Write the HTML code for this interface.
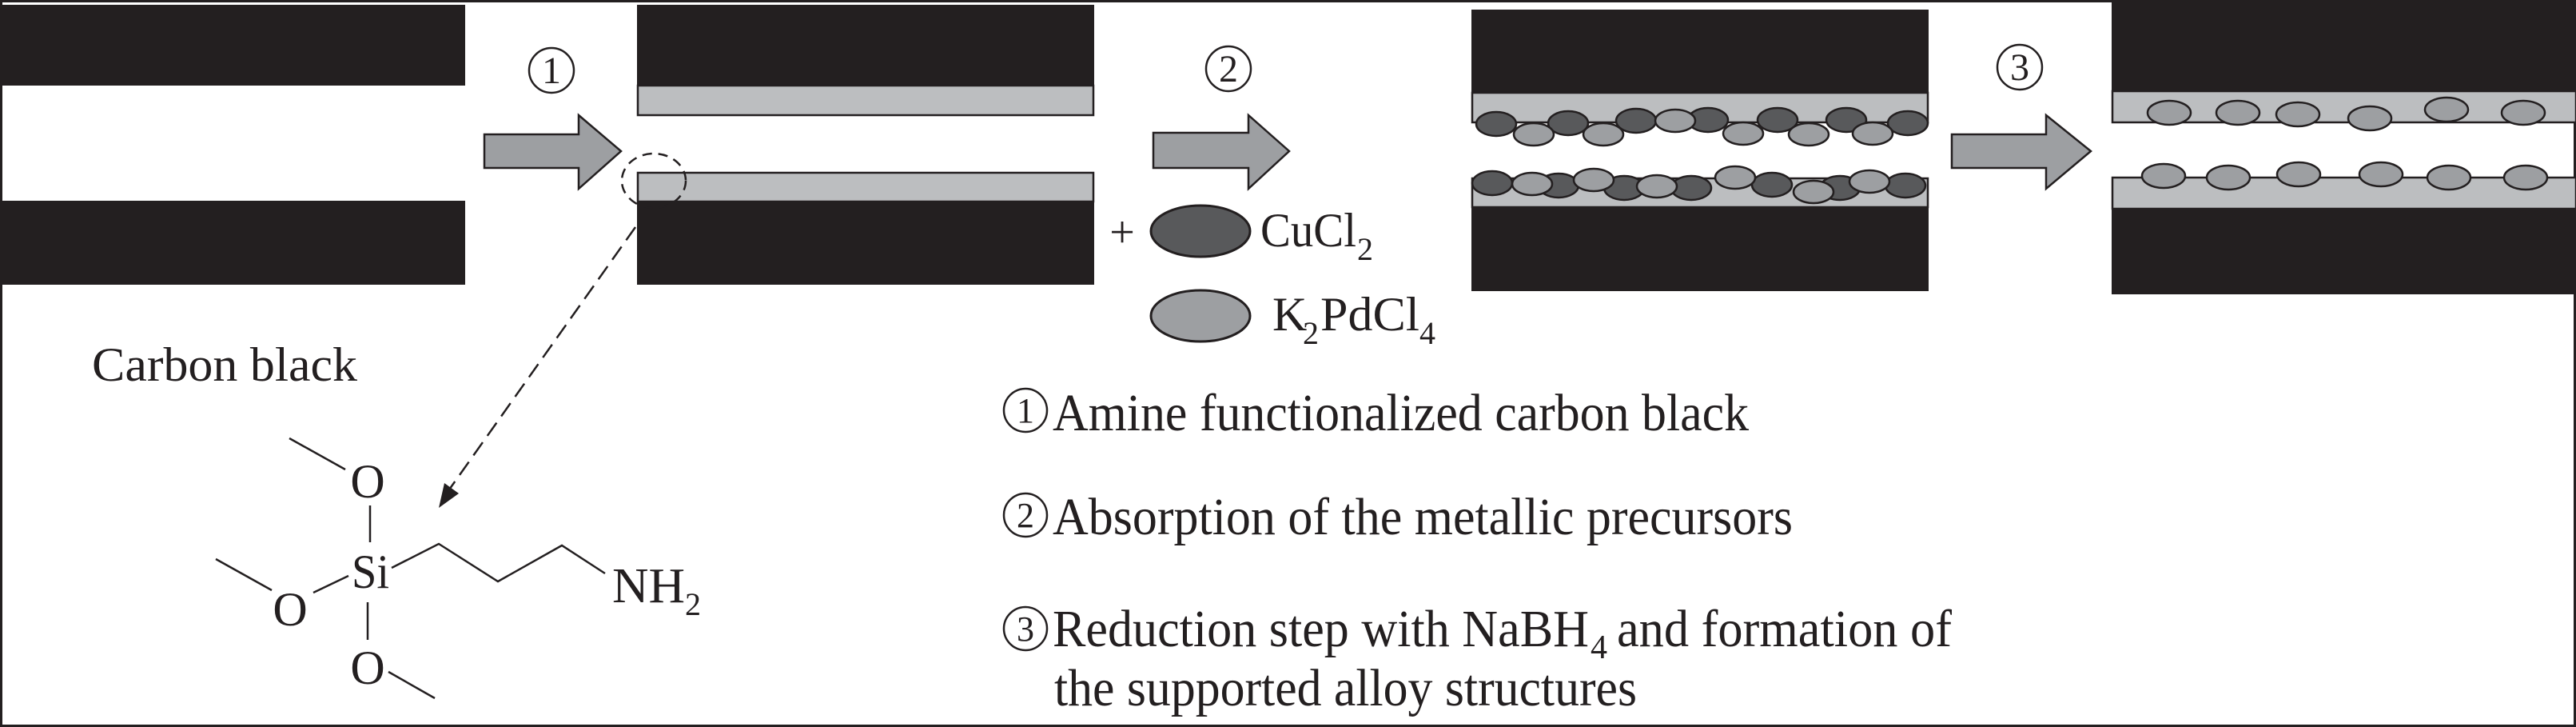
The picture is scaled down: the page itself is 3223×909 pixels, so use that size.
<!DOCTYPE html>
<html><head><meta charset="utf-8"><style>
html,body{margin:0;padding:0;background:#fff}
svg{display:block}
text{font-family:"Liberation Serif",serif;fill:#231f20}
</style></head><body>
<svg width="3223" height="909" viewBox="0 0 3223 909" xmlns="http://www.w3.org/2000/svg">
<rect x="1.5" y="1.5" width="3220" height="906" fill="#fff" stroke="#231f20" stroke-width="3"/>
<!-- panel 1 -->
<rect x="0" y="6" width="582" height="101" fill="#231f20"/>
<rect x="0" y="251" width="582" height="105" fill="#231f20"/>
<!-- arrow 1 -->
<polygon points="606,168 724,168 724,144 777,189 724,236 724,210 606,210" fill="#9d9fa2" stroke="#231f20" stroke-width="2.5"/>
<circle cx="690" cy="88" r="28" fill="none" stroke="#231f20" stroke-width="2.5"/>
<text x="690" y="104" font-size="48" text-anchor="middle">1</text>
<!-- panel 2 -->
<rect x="797" y="6" width="572" height="101" fill="#231f20"/>
<rect x="798" y="107" width="570" height="37" fill="#bcbec0" stroke="#231f20" stroke-width="2.5"/>
<rect x="798" y="216" width="570" height="36" fill="#bcbec0" stroke="#231f20" stroke-width="2.5"/>
<rect x="797" y="251" width="572" height="105" fill="#231f20"/>
<ellipse cx="818" cy="226" rx="40" ry="34" fill="none" stroke="#231f20" stroke-width="2.5" stroke-dasharray="12,8"/>
<line x1="795" y1="284" x2="560" y2="615" stroke="#231f20" stroke-width="2.5" stroke-dasharray="20,10"/>
<polygon points="549,635 556,604 574,617" fill="#231f20"/>
<!-- arrow 2 -->
<polygon points="1443,166 1562,166 1562,144 1613,189 1562,236 1562,210 1443,210" fill="#9d9fa2" stroke="#231f20" stroke-width="2.5"/>
<circle cx="1537" cy="86" r="28" fill="none" stroke="#231f20" stroke-width="2.5"/>
<text x="1537" y="102" font-size="48" text-anchor="middle">2</text>
<text x="1404" y="309" font-size="56" text-anchor="middle">+</text>
<ellipse cx="1502" cy="289" rx="62" ry="32" fill="#58595b" stroke="#231f20" stroke-width="3"/>
<text x="1577" y="308" font-size="60" textLength="120" lengthAdjust="spacingAndGlyphs">CuCl</text>
<text x="1698" y="325" font-size="40">2</text>
<ellipse cx="1502" cy="395" rx="62" ry="32" fill="#9d9fa2" stroke="#231f20" stroke-width="3"/>
<text x="1592" y="413" font-size="60">K</text>
<text x="1630" y="430" font-size="40">2</text>
<text x="1652" y="413" font-size="60" textLength="124" lengthAdjust="spacingAndGlyphs">PdCl</text>
<text x="1776" y="430" font-size="40">4</text>
<!-- panel 3 -->
<rect x="1841" y="12" width="572" height="104" fill="#231f20"/>
<rect x="1842" y="116" width="570" height="37" fill="#bcbec0" stroke="#231f20" stroke-width="2.5"/>
<rect x="1842" y="223" width="570" height="36" fill="#bcbec0" stroke="#231f20" stroke-width="2.5"/>
<rect x="1841" y="259" width="572" height="105" fill="#231f20"/>
<g stroke="#231f20" stroke-width="2.5">
<g fill="#58595b">
<ellipse cx="1872" cy="155" rx="25" ry="15"/><ellipse cx="1962" cy="154" rx="25" ry="15"/><ellipse cx="2047" cy="151" rx="25" ry="15"/><ellipse cx="2137" cy="150" rx="25" ry="15"/><ellipse cx="2224" cy="150" rx="25" ry="15"/><ellipse cx="2310" cy="150" rx="25" ry="15"/><ellipse cx="2387" cy="154" rx="25" ry="15"/>
</g>
<g fill="#9d9fa2">
<ellipse cx="1919" cy="168" rx="25" ry="14"/><ellipse cx="2006" cy="168" rx="25" ry="14"/><ellipse cx="2096" cy="151" rx="25" ry="14"/><ellipse cx="2181" cy="167" rx="25" ry="14"/><ellipse cx="2263" cy="168" rx="25" ry="14"/><ellipse cx="2343" cy="167" rx="25" ry="14"/>
</g>
<g fill="#58595b">
<ellipse cx="1867" cy="229" rx="25" ry="15"/><ellipse cx="1950" cy="232" rx="25" ry="15"/><ellipse cx="2032" cy="235" rx="25" ry="15"/><ellipse cx="2116" cy="235" rx="25" ry="15"/><ellipse cx="2217" cy="231" rx="25" ry="15"/><ellipse cx="2302" cy="235" rx="25" ry="15"/><ellipse cx="2384" cy="232" rx="25" ry="15"/>
</g>
<g fill="#9d9fa2">
<ellipse cx="1917" cy="230" rx="25" ry="14"/><ellipse cx="1994" cy="225" rx="25" ry="14"/><ellipse cx="2073" cy="233" rx="25" ry="14"/><ellipse cx="2171" cy="222" rx="25" ry="14"/><ellipse cx="2269" cy="240" rx="25" ry="14"/><ellipse cx="2339" cy="227" rx="25" ry="14"/>
</g>
</g>
<!-- arrow 3 -->
<polygon points="2442,168 2560,168 2560,144 2616,189 2560,236 2560,210 2442,210" fill="#9d9fa2" stroke="#231f20" stroke-width="2.5"/>
<circle cx="2527" cy="84" r="28" fill="none" stroke="#231f20" stroke-width="2.5"/>
<text x="2527" y="100" font-size="48" text-anchor="middle">3</text>
<!-- panel 4 -->
<rect x="2642" y="0" width="581" height="114" fill="#231f20"/>
<rect x="2643" y="114" width="580" height="39" fill="#bcbec0" stroke="#231f20" stroke-width="2.5"/>
<rect x="2643" y="222" width="580" height="39" fill="#bcbec0" stroke="#231f20" stroke-width="2.5"/>
<rect x="2642" y="261" width="581" height="107" fill="#231f20"/>
<g fill="#9d9fa2" stroke="#231f20" stroke-width="2.5">
<ellipse cx="2714" cy="141" rx="27" ry="15"/><ellipse cx="2800" cy="141" rx="27" ry="15"/><ellipse cx="2875" cy="143" rx="27" ry="15"/><ellipse cx="2965" cy="148" rx="27" ry="15"/><ellipse cx="3061" cy="137" rx="27" ry="15"/><ellipse cx="3157" cy="141" rx="27" ry="15"/>
<ellipse cx="2707" cy="220" rx="27" ry="15"/><ellipse cx="2788" cy="222" rx="27" ry="15"/><ellipse cx="2876" cy="218" rx="27" ry="15"/><ellipse cx="2979" cy="218" rx="27" ry="15"/><ellipse cx="3064" cy="222" rx="27" ry="15"/><ellipse cx="3160" cy="222" rx="27" ry="15"/>
</g>
<!-- labels -->
<text x="115" y="476" font-size="60" textLength="332" lengthAdjust="spacingAndGlyphs">Carbon black</text>
<g fill="none" stroke="#231f20" stroke-width="2.5">
<circle cx="1283" cy="513" r="27"/>
<circle cx="1283" cy="644" r="27"/>
<circle cx="1283" cy="786" r="27"/>
</g>
<text x="1283" y="528" font-size="44" text-anchor="middle">1</text>
<text x="1283" y="659" font-size="44" text-anchor="middle">2</text>
<text x="1283" y="801" font-size="44" text-anchor="middle">3</text>
<text x="1317" y="538" font-size="66" textLength="871" lengthAdjust="spacingAndGlyphs">Amine functionalized carbon black</text>
<text x="1317" y="668" font-size="66" textLength="926" lengthAdjust="spacingAndGlyphs">Absorption of the metallic precursors</text>
<text x="1317" y="808" font-size="66" textLength="671" lengthAdjust="spacingAndGlyphs">Reduction step with NaBH</text>
<text x="1990" y="823" font-size="42">4</text>
<text x="2023" y="808" font-size="66" textLength="419" lengthAdjust="spacingAndGlyphs">and formation of</text>
<text x="1319" y="882" font-size="66" textLength="729" lengthAdjust="spacingAndGlyphs">the supported alloy structures</text>
<!-- chemical structure -->
<g stroke="#231f20" stroke-width="2.5" fill="none">
<line x1="362" y1="548" x2="432" y2="587"/>
<line x1="463" y1="632" x2="463" y2="678"/>
<line x1="270" y1="699" x2="340" y2="738"/>
<line x1="392" y1="741" x2="436" y2="720"/>
<line x1="460" y1="753" x2="460" y2="800"/>
<line x1="486" y1="840" x2="544" y2="873"/>
<polyline points="490,710 549,680 623,727 703,682 757,717"/>
</g>
<text x="460" y="622" font-size="60" text-anchor="middle">O</text>
<text x="440" y="735" font-size="60" textLength="47" lengthAdjust="spacingAndGlyphs">Si</text>
<text x="363" y="782" font-size="60" text-anchor="middle">O</text>
<text x="460" y="855" font-size="60" text-anchor="middle">O</text>
<text x="766" y="753" font-size="62" textLength="91" lengthAdjust="spacingAndGlyphs">NH</text>
<text x="857" y="769" font-size="40">2</text>
</svg>
</body></html>
